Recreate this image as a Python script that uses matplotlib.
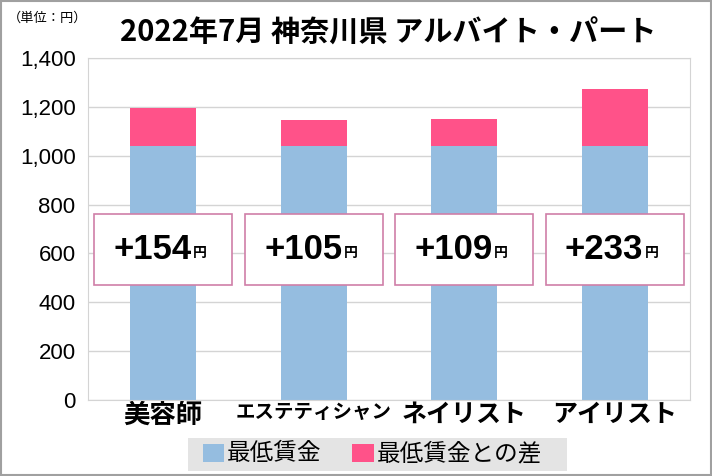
import matplotlib.pyplot as plt
from matplotlib.patches import Rectangle

plt.rcParams['font.family'] = ['Noto Sans CJK JP', 'DejaVu Sans']

# data
categories = ['美容師', 'エステティシャン', 'ネイリスト', 'アイリスト']
label_sizes = [19, 14, 18, 18]
min_wage = [1040, 1040, 1040, 1040]
diff = [154, 105, 109, 233]
yticks = [0, 200, 400, 600, 800, 1000, 1200, 1400]

blue = '#95bde0'
pink = '#ff5289'
latin = ['Liberation Sans', 'DejaVu Sans']

fig = plt.figure(figsize=(7.12, 4.76), dpi=100)
ax = fig.add_axes([88 / 712, 1 - 400 / 476, 602 / 712, 342 / 476])

x = range(len(categories))
ax.bar(x, min_wage, width=0.44, color=blue, zorder=2)
ax.bar(x, diff, width=0.44, bottom=min_wage, color=pink, zorder=2)

ax.set_xlim(-0.5, len(categories) - 0.5)
ax.set_ylim(0, 1400)
ax.set_yticks(yticks)
ax.set_yticklabels([f'{v:,}' for v in yticks], fontsize=16, family=latin)
ax.set_xticks(list(x))
ax.set_xticklabels(categories, fontweight='bold')
for lbl, fs in zip(ax.get_xticklabels(), label_sizes):
    lbl.set_fontsize(fs)
ax.tick_params(length=0, pad=9)
ax.tick_params(axis='x', pad=2)
ax.grid(axis='y', color='#d4d4d4', linewidth=1, zorder=0)
for s in ['top', 'right', 'bottom', 'left']:
    ax.spines[s].set_color('#d4d4d4')

# difference boxes
for i, d in enumerate(diff):
    box = Rectangle((i - 0.46, 471), 0.92, 291, facecolor='white',
                    edgecolor='#cf7fa8', linewidth=1.2, zorder=3)
    ax.add_patch(box)
    ax.text(i + 0.19, 617, f'+{d}', ha='right', va='center', fontsize=25,
            fontweight='bold', family=latin, zorder=4)
    ax.text(i + 0.20, 603, '円', ha='left', va='center', fontsize=10,
            fontweight='bold', zorder=4)

fig.text(0.545, 1 - 33 / 476, '2022年7月 神奈川県 アルバイト・パート', ha='center',
         va='center', fontsize=21, fontweight='bold')
fig.text(8 / 712, 1 - 18 / 476, '（単位：円）', ha='left', va='center', fontsize=9.5)

# legend
fig.patches.append(Rectangle((188 / 712, 1 - 471 / 476), 379 / 712, 33 / 476,
                             transform=fig.transFigure, facecolor='#e4e4e4',
                             edgecolor='none'))
fig.patches.append(Rectangle((203 / 712, 1 - 462 / 476), 21 / 712, 18 / 476,
                             transform=fig.transFigure, facecolor=blue))
fig.text(227 / 712, 1 - 454 / 476, '最低賃金', ha='left', va='center', fontsize=17)
fig.patches.append(Rectangle((352 / 712, 1 - 462 / 476), 22 / 712, 18 / 476,
                             transform=fig.transFigure, facecolor=pink))
fig.text(377 / 712, 1 - 454 / 476, '最低賃金との差', ha='left', va='center', fontsize=17)

# outer border
fig.patches.append(Rectangle((0.001, 0.002), 0.997, 0.996, transform=fig.transFigure,
                             facecolor='none', edgecolor='#a0a0a0', linewidth=1.5))

fig.savefig('out.png', dpi=100)
